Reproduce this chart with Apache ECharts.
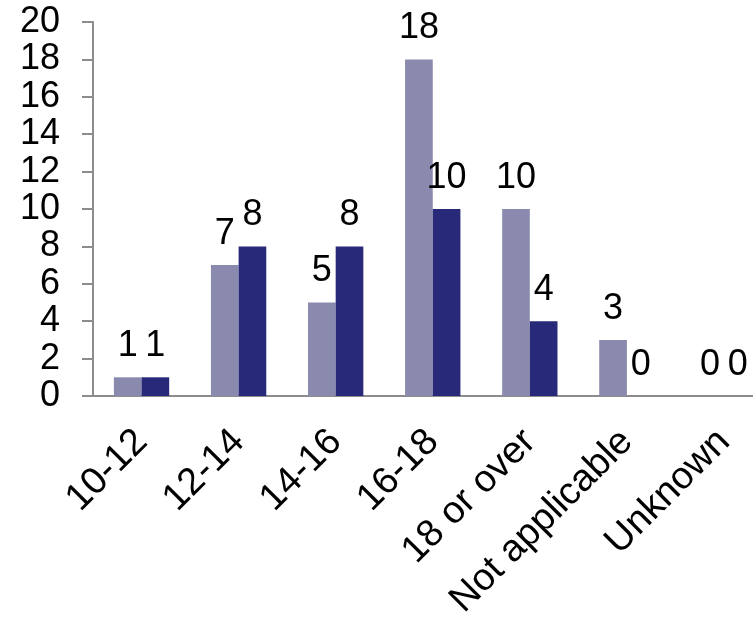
<!DOCTYPE html>
<html>
<head>
<meta charset="utf-8">
<script src="https://cdn.jsdelivr.net/npm/echarts@6/dist/echarts.min.js"></script>
<style>
  html, body { margin: 0; padding: 0; background: #ffffff; }
  #chart { width: 753px; height: 617px; }
</style>
</head>
<body>
<div id="chart"></div>
<script>
// Age groups along the horizontal axis
const categories = ['10-12', '12-14', '14-16', '16-18', '18 or over', 'Not applicable', 'Unknown'];
// Counts for the two groups compared in each age band
const seriesA = [1, 7, 5, 18, 10, 3, 0];
const seriesB = [1, 8, 8, 10, 4, 0, 0];
// Value axis range and step
const yMin = 0;
const yMax = 20;
const yStep = 2;

const font = '"Liberation Sans", Arial, sans-serif';
const fontSize = 36;
const chart = echarts.init(document.getElementById('chart'), null, { renderer: 'canvas' });

const labelStyle = {
  show: true,
  position: 'top',
  distance: 13,
  color: '#000000',
  fontFamily: font,
  fontSize: fontSize
};

chart.setOption({
  animation: false,
  backgroundColor: '#ffffff',
  // the last category runs past the right edge of the canvas
  grid: {
    left: 93, top: 22, height: 374, width: 679.5,
    containLabel: false,
    outerBoundsMode: 'none'
  },
  xAxis: {
    type: 'category',
    data: categories,
    axisLine: { show: true, lineStyle: { color: '#8c8c8c', width: 2 } },
    axisTick: { show: false },
    axisLabel: {
      interval: 0,
      rotate: 45,
      margin: 40,
      color: '#000000',
      fontFamily: font,
      fontSize: 38
    },
    splitLine: { show: false }
  },
  yAxis: {
    type: 'value',
    min: yMin,
    max: yMax,
    interval: yStep,
    axisLine: { show: true, lineStyle: { color: '#8c8c8c', width: 2 } },
    axisTick: { show: true, inside: false, length: 11, lineStyle: { color: '#8c8c8c', width: 2 } },
    axisLabel: {
      margin: 33,
      color: '#000000',
      fontFamily: font,
      fontSize: fontSize
    },
    splitLine: { show: false }
  },
  series: [
    {
      type: 'bar',
      data: seriesA,
      barGap: '0%',
      barCategoryGap: '43%',
      itemStyle: { color: '#8a8aae' },
      label: labelStyle
    },
    {
      type: 'bar',
      data: seriesB,
      itemStyle: { color: '#29297a' },
      label: labelStyle
    }
  ]
});
</script>
</body>
</html>
